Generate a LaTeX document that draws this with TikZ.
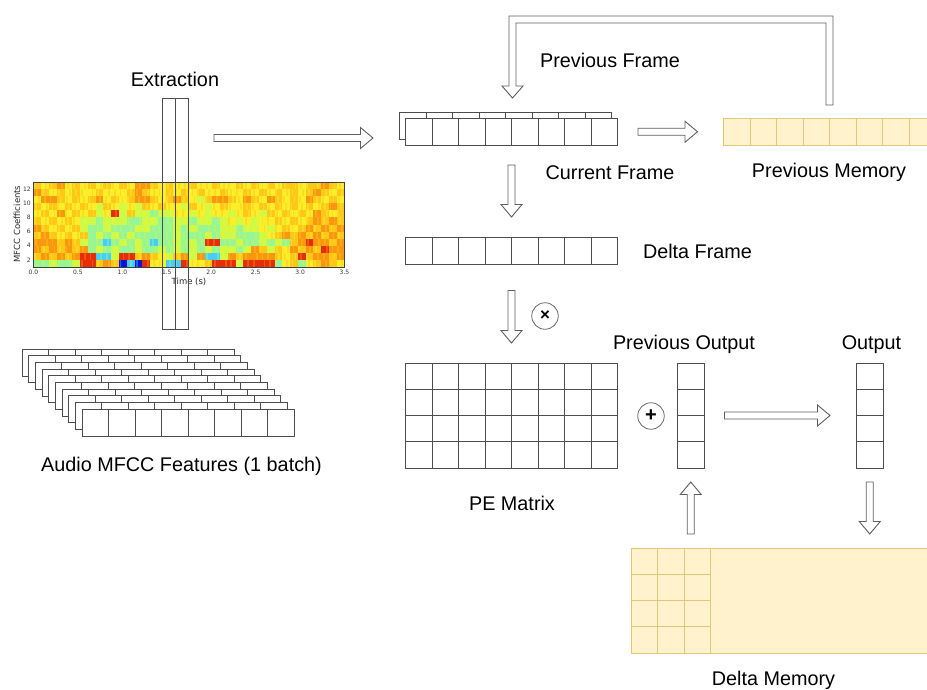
\documentclass[tikz,border=0pt]{standalone}
\usepackage{fontspec}
\setmainfont{Liberation Sans}
\newfontfamily\plotfont{DejaVu Sans}
\usetikzlibrary{calc}

\definecolor{cellline}{HTML}{4D4D4D}
\definecolor{arrowline}{HTML}{5E5E5E}
\definecolor{circline}{HTML}{6A6A6A}
\definecolor{memfill}{HTML}{FFF2CC}
\definecolor{memline}{HTML}{E2C776}
% jet colormap samples for the MFCC plot
\definecolor{spB}{RGB}{10,20,220}
\definecolor{spC}{RGB}{70,205,250}
\definecolor{spG}{RGB}{150,245,150}
\definecolor{spL}{RGB}{205,250,70}
\definecolor{spY}{RGB}{252,238,40}
\definecolor{spA}{RGB}{255,200,25}
\definecolor{spO}{RGB}{250,150,15}
\definecolor{spR}{RGB}{230,45,5}
% softer streak tones laid over each time bin
\colorlet{altB}{spB!60!spC}
\colorlet{altC}{spC!55!spG}
\colorlet{altG}{spG!55!spL}
\colorlet{altL}{spL!55!spY}
\colorlet{altY}{spY!55!spA}
\colorlet{altA}{spA!55!spY}
\colorlet{altO}{spO!55!spA}
\colorlet{altR}{spR!60!spO}

\tikzset{
  cellbox/.style={draw=cellline, line width=0.8pt, fill=white, inner sep=0pt, outer sep=0pt, anchor=north west},
  memory/.style={draw=memline, line width=0.8pt, fill=memfill, inner sep=0pt, outer sep=0pt, anchor=north west},
  blockarrow/.style={draw=arrowline, line width=0.9pt, fill=white, line join=miter},
  txt/.style={font=\fontsize{19.8}{24}\selectfont, inner sep=0pt, yshift=-1.5pt},
  ticklabel/.style={font=\plotfont\fontsize{6}{7}\selectfont, inner sep=0pt, text=black!80},
  axislabel/.style={font=\plotfont\fontsize{8.5}{9}\selectfont, inner sep=0pt, text=black!85},
  opcircle/.style={circle, draw=circline, line width=0.8pt, minimum size=26.5pt, inner sep=0pt},
}

% cell dividers inside a block node
\newcommand\cellvsplit[5][cellline]{%
  \foreach \i in {1,...,#3}
    \draw[#1, line width=0.8pt] ($(#2.north west)+(\i*#4,0)$) -- ++(0,#5);}
\newcommand\cellhsplit[5][cellline]{%
  \foreach \j in {1,...,#3}
    \draw[#1, line width=0.8pt] ($(#2.north west)+(0,\j*#4)$) -- ++(#5,0);}

% hollow block arrow from #1 to the tip #2
\newcommand\blockarrow[2]{%
  \coordinate (ba-base) at ($(#2)!12.5pt!(#1)$);
  \draw[blockarrow]
    ($(#1)!3.5pt!90:(#2)$) -- ($(ba-base)!3.5pt!90:(#2)$) --
    ($(ba-base)!10.5pt!90:(#2)$) -- (#2) --
    ($(ba-base)!10.5pt!-90:(#2)$) -- ($(ba-base)!3.5pt!-90:(#2)$) --
    ($(#1)!3.5pt!-90:(#2)$) -- cycle;}

% one row of the coefficient plot, one letter per time bin
\newcommand\specrow[2]{\def\speccol{0}\def\specy{#1}\specstep#2\relax}
\def\specstep#1{\ifx#1\relax\else
  \fill[sp#1] ({33.5+\speccol*7.775},{182+\specy*7.0833}) rectangle ++(7.9,7.2);
  \pgfmathsetmacro\specoff{mod(\speccol*3+\specy*2,5)+0.6}%
  \fill[alt#1] ({33.5+\speccol*7.775+\specoff},{182+\specy*7.0833}) rectangle ++(1.8,7.2);
  \pgfmathtruncatemacro\speccol{\speccol+1}%
  \expandafter\specstep\fi}

\begin{document}
\begin{tikzpicture}[x=1pt,y=-1pt]
\useasboundingbox (0,0) rectangle (927,689);
\clip (0,0) rectangle (927,689);

% ---- MFCC plot ----
\specrow{0}{AYAOYAYAYAYAYOOAYAYYAYYAYYAYAYAYAAYAAOAY}
\specrow{1}{OAYAYAYYAYYYAOAYYAYAYAYYAYYAYAYAYAYAOAYA}
\specrow{2}{YOOAYAYAOYAYAOOAYAOAYLAOOAYOAYOAYAYOAYAY}
\specrow{3}{AYAYAYAYLAYLYLAYAYYLAYLYAYYAYAYAYAYAYAOA}
\specrow{4}{YAYOYAYALYRLALLGLLYYLYLYYLYAYLAYAYAYOAYA}
\specrow{5}{AYAYAYLLGLLLGGLLGGLLGLLGLYLYLYYAYAYAOAOA}
\specrow{6}{OAYAYALGGLGGGLLGGGLGLGGGLLGLLYLYAYAOAOAO}
\specrow{7}{AOAYAYAGLGLGLGGGGGLGGGLGLLGGGLYAOAOAOAOA}
\specrow{8}{OOOAOALGGCGLGLGCGGLGLGRRGGLGGLGLGAOROOAO}
\specrow{9}{OAOAOAOGLGLGGLGGLGLGLGLGLLGLOALAYOAOAROO}
\specrow{10}{AOAOAORRCCLRRAOAYLAOLOCCLOAOOOOAYARAOOAO}
\specrow{11}{GGLGGLRRAOABCBRYYCCRYYARRRLRRRRGYAGYAOAY}
\node[draw=black!75, line width=0.6pt, minimum width=311pt, minimum height=85pt,
      inner sep=0pt, outer sep=0pt, anchor=north west] (spec) at (33.5,182) {};
\foreach \t [count=\i] in {0.0,0.5,1.0,1.5,2.0,2.5,3.0,3.5}
  \node[ticklabel] (xt\i) at ({33.5+\t*311/3.5},272) {\t};
\foreach \v [count=\i] in {2,4,6,8,10,12}
  \node[ticklabel, anchor=east] (yt\i) at (31,{267-(\v-1)*7.0833}) {\v};
\node[axislabel] (tlabel) at (189,281.5) {Time (s)};
\node[axislabel, rotate=90] (clabel) at (17,224) {MFCC Coefficients};

% extraction window
\node[draw=cellline, line width=0.8pt, minimum width=13pt, minimum height=231pt,
      inner sep=0pt, outer sep=0pt, anchor=north west] (ex1) at (162,98) {};
\node[draw=cellline, line width=0.8pt, minimum width=13pt, minimum height=231pt,
      inner sep=0pt, outer sep=0pt, anchor=north west] (ex2) at (175,98) {};
\node[txt] (lextr) at (175,78) {Extraction};

% ---- stacked feature frames ----
\foreach \k in {0,...,9} {
  \pgfmathsetmacro\off{(9-\k)*6.667}
  \node[cellbox, minimum width=212pt, minimum height=27pt] (feat\k) at ({82-\off},{409-\off}) {};
  \cellvsplit{feat\k}{7}{26.5}{27}
}
\node[txt] (laudio) at (181.5,465) {Audio MFCC Features (1 batch)};

% ---- current frame (with the frame before it) ----
\node[cellbox, minimum width=212pt, minimum height=27.5pt] (curb) at (399.5,112) {};
\cellvsplit{curb}{7}{26.5}{27.5}
\node[cellbox, minimum width=212pt, minimum height=27.5pt] (cur) at (405.5,118) {};
\cellvsplit{cur}{7}{26.5}{27.5}
\node[txt] (lcf) at (610,171) {Current Frame};

% previous memory
\node[memory, minimum width=212pt, minimum height=27.5pt] (pm) at (723.5,118) {};
\cellvsplit[memline]{pm}{7}{26.5}{27.5}
\node[txt] (lpm) at (829,171) {Previous Memory};
\node[txt] (lpf) at (610,59) {Previous Frame};

% delta frame
\node[cellbox, minimum width=212pt, minimum height=27.5pt] (delta) at (405.5,237) {};
\cellvsplit{delta}{7}{26.5}{27.5}
\node[txt] (ldf) at (697.5,250) {Delta Frame};

% PE matrix
\node[cellbox, minimum width=212pt, minimum height=105pt] (pe) at (405.5,363) {};
\cellvsplit{pe}{7}{26.5}{105}
\cellhsplit{pe}{3}{26.25}{212}
\node[txt] (lpe) at (512,502) {PE Matrix};

% previous output and output columns
\node[cellbox, minimum width=27.5pt, minimum height=105pt] (prevout) at (677,363) {};
\cellhsplit{prevout}{3}{26.25}{27.5}
\node[txt] (lpo) at (684,343) {Previous Output};
\node[cellbox, minimum width=27.5pt, minimum height=105pt] (out) at (856,363) {};
\cellhsplit{out}{3}{26.25}{27.5}
\node[txt] (lout) at (871.5,343) {Output};

% delta memory
\node[memory, minimum width=340pt, minimum height=105pt] (dm) at (631,548) {};
\cellvsplit[memline]{dm}{3}{26.5}{105}
\cellhsplit[memline]{dm}{3}{26.25}{79.5}
\node[txt] (ldm) at (773.5,679) {Delta Memory};

% operators
\node[opcircle, font=\fontsize{17}{17}\selectfont\bfseries] (mul) at (545,316) {×};
\node[opcircle, font=\fontsize{20}{20}\selectfont\bfseries] (add) at (651,416) {+};

% ---- block arrows ----
\coordinate (eS) at (214,138);
\coordinate (eT) at ($(curb.north west)+(-26.5,26)$);
\blockarrow{eS}{eT}

\coordinate (cS) at ($(cur.east)+(20.5,0)$);
\coordinate (cT) at ($(pm.west)+(-26,0)$);
\blockarrow{cS}{cT}

\coordinate (dS) at ($(cur.south)+(0,19.5)$);
\coordinate (dT) at ($(delta.north)+(0,-20)$);
\blockarrow{dS}{dT}

\coordinate (pS) at ($(delta.south)+(0,26)$);
\coordinate (pT) at ($(pe.north)+(0,-20)$);
\blockarrow{pS}{pT}

\coordinate (oS) at ($(prevout.east)+(20,0)$);
\coordinate (oT) at ($(out.west)+(-26,0)$);
\blockarrow{oS}{oT}

\coordinate (uS) at ($(prevout.south |- dm.north)+(0,-14)$);
\coordinate (uT) at ($(prevout.south)+(0,14)$);
\blockarrow{uS}{uT}

\coordinate (wS) at ($(out.south)+(0,14)$);
\coordinate (wT) at ($(out.south |- dm.north)+(0,-14)$);
\blockarrow{wS}{wT}

% feedback from previous memory back to the frame stack
\coordinate (fbs) at ($(pm.north west)+(106,-13)$);
\coordinate (fbt) at ($(curb.north west)+(113,-14)$);
\coordinate (fbtop) at (0,19.5);
\draw[blockarrow] let \p1=(fbs), \p2=(fbt), \p3=(fbtop) in
  (\x1-3.5pt,\y1) -- (\x1+3.5pt,\y1) -- (\x1+3.5pt,\y3+3.5pt) --
  (\x2-3.5pt,\y3+3.5pt) -- (\x2-3.5pt,\y2+12pt) -- (\x2-10.5pt,\y2+12pt) --
  (\x2,\y2) -- (\x2+10.5pt,\y2+12pt) -- (\x2+3.5pt,\y2+12pt) --
  (\x2+3.5pt,\y3-3.5pt) -- (\x1-3.5pt,\y3-3.5pt) -- cycle;
\end{tikzpicture}
\end{document}
